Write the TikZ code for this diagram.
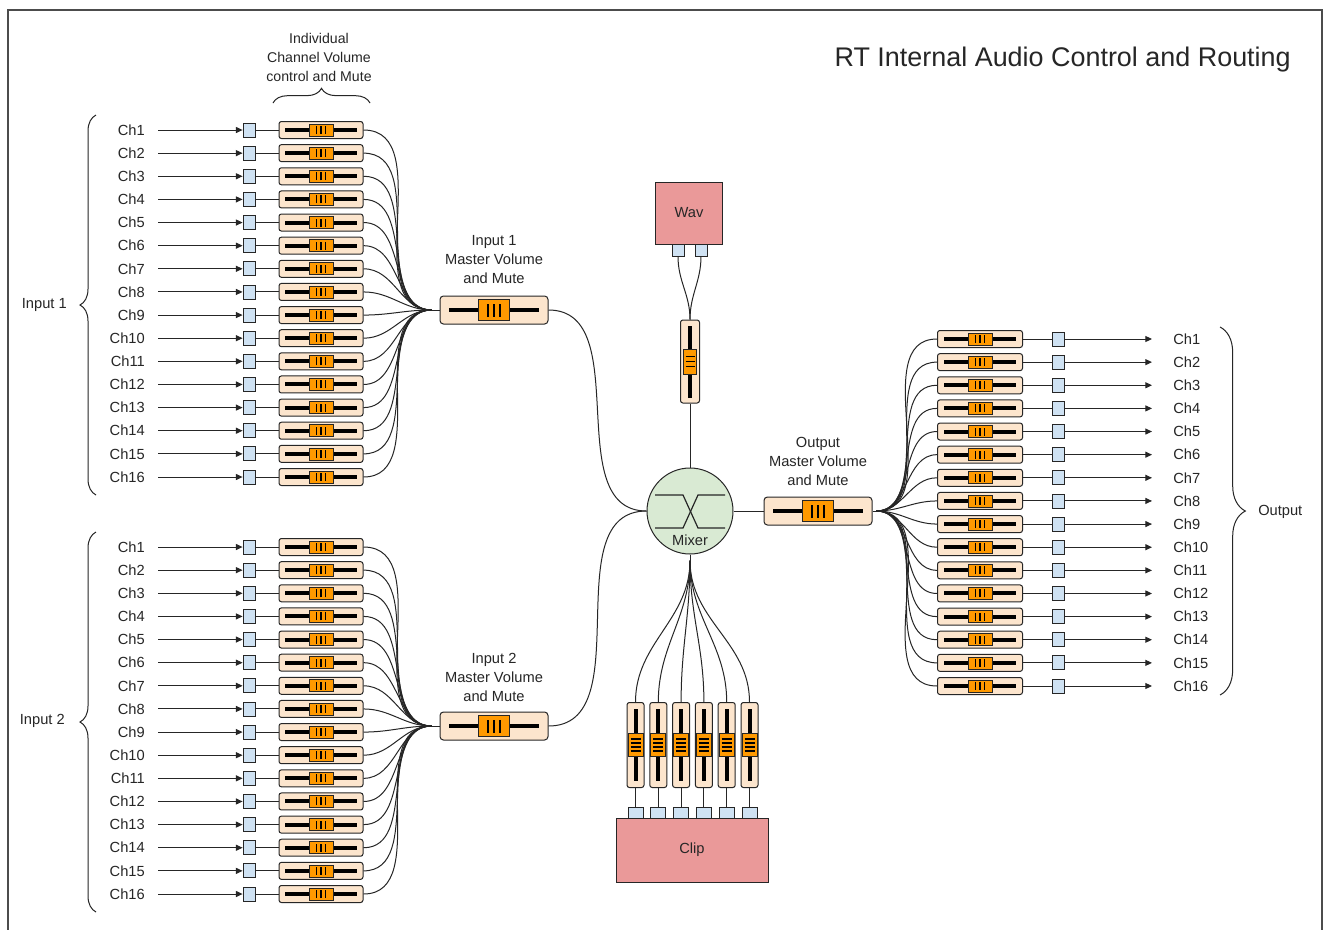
\documentclass[tikz,border=0pt]{standalone}
\usepackage{fontspec}
\setmainfont{Liberation Sans}
\usetikzlibrary{arrows.meta,decorations.pathreplacing,calc}

\definecolor{ink}{HTML}{262626}
\definecolor{peach}{HTML}{FCE5CD}
\definecolor{knob}{HTML}{FF9900}
\definecolor{portblue}{HTML}{CFE2F3}
\definecolor{srcpink}{HTML}{EA9999}
\definecolor{mixgreen}{HTML}{D9EAD3}

\tikzset{
  lbl/.style={font=\fontsize{11}{14.25}\selectfont, text=ink, inner sep=0pt},
  wire/.style={draw=ink, line width=0.75pt},
  sig/.style={wire, -{Triangle[length=5pt,width=4.5pt]}},
  port/.style={draw=ink, fill=portblue, minimum width=9pt, minimum height=10.5pt,
    inner sep=0pt, line width=0.6pt},
  srcbox/.style={draw=ink, fill=srcpink, inner sep=0pt, line width=0.75pt,
    font=\fontsize{11}{13}\selectfont, text=ink},
  % horizontal fader of one channel
  chslider/.style={draw=ink, fill=peach, rounded corners=1.8pt, minimum width=63pt,
    minimum height=12.75pt, inner sep=0pt, line width=0.75pt,
    path picture={
      \begin{scope}[sharp corners, shift={(path picture bounding box.center)}]
        \fill[black] (-36,-2) rectangle (36,2);
        \draw[fill=knob, draw=ink, line width=0.5pt] (-12,-6) rectangle (12,6);
        \foreach \d in {-4.5,0,4.5} \draw[black, line width=0.9pt] (\d,-4) -- (\d,4);
      \end{scope}}},
  % larger horizontal master fader
  mslider/.style={draw=ink, fill=peach, rounded corners=2.6pt, minimum width=81pt,
    minimum height=21pt, inner sep=0pt, line width=0.75pt,
    path picture={
      \begin{scope}[sharp corners, shift={(path picture bounding box.center)}]
        \fill[black] (-45,-2.2) rectangle (45,2.2);
        \draw[fill=knob, draw=ink, line width=0.6pt] (-15.5,-10.5) rectangle (15.5,10.5);
        \foreach \d in {-6,0,6} \draw[black, line width=1.6pt] (\d,-6.5) -- (\d,6.5);
      \end{scope}}},
  % vertical fader, three grip lines
  wslider/.style={draw=ink, fill=peach, rounded corners=1.8pt, minimum width=14.25pt,
    minimum height=62.25pt, inner sep=0pt, line width=0.75pt,
    path picture={
      \begin{scope}[sharp corners, shift={(path picture bounding box.center)}]
        \fill[black] (-2,-36) rectangle (2,36);
        \draw[fill=knob, draw=ink, line width=0.5pt] (-6.5,-12.5) rectangle (6.5,12.5);
        \foreach \d in {-5,0,5} \draw[black, line width=0.9pt] (-4.5,\d) -- (4.5,\d);
      \end{scope}}},
  % vertical fader, four grip lines
  cslider/.style={draw=ink, fill=peach, rounded corners=1.8pt, minimum width=12.75pt,
    minimum height=63.75pt, inner sep=0pt, line width=0.75pt,
    path picture={
      \begin{scope}[sharp corners, shift={(path picture bounding box.center)}]
        \fill[black] (-2,-36) rectangle (2,36);
        \draw[fill=knob, draw=ink, line width=0.5pt] (-7.5,-11.5) rectangle (7.5,11.5);
        \foreach \d in {-6,-2,2,6} \draw[black, line width=0.9pt] (-5,\d) -- (5,\d);
      \end{scope}}},
  bracedeco/.style={wire, decorate, decoration={brace, amplitude=#1}},
}

\begin{document}
\begin{tikzpicture}[x=0.75pt,y=0.75pt]
\useasboundingbox (0,0) rectangle (1327,-929);
\clip (0,0) rectangle (1327,-929);
\fill[white] (0,0) rectangle (1327,-929);

% outer frame
\draw[black!70, line width=1.2pt] (8,-945) -- (8,-10) -- (1322,-10) -- (1322,-945);

% title
\node[lbl, anchor=east, font=\fontsize{20.2}{23}\selectfont] (title) at (1291,-60)
  {RT Internal Audio Control and Routing};

% column heading over the channel faders
\node[lbl, align=center, font=\fontsize{10.6}{14.25}\selectfont] (colhead) at (319,-57)
  {Individual\\Channel Volume\\control and Mute};
\draw[bracedeco=11pt] (273,-103) -- (370,-103);

% master faders and the points where their feeds merge
\node[mslider] (m1) at (494,-310) {};
\node[mslider] (m2) at (494,-726) {};
\coordinate (m1j) at ($(m1.west)+(-8,0)$);
\coordinate (m2j) at ($(m2.west)+(-8,0)$);
\node[lbl, align=center] (m1lbl) at (494,-260) {Input 1\\Master Volume\\and Mute};
\node[lbl, align=center] (m2lbl) at (494,-677) {Input 2\\Master Volume\\and Mute};

% mixer
\node[circle, draw=ink, fill=mixgreen, minimum size=64.5pt, inner sep=0pt,
  line width=0.75pt] (mix) at (690,-511) {};
\coordinate (mixj) at ($(mix.south)+(0,-6)$);
\draw[ink, line width=0.9pt] (655,-495) -- (683,-495) -- (698,-528) -- (725,-528);
\draw[ink, line width=0.9pt] (655,-528) -- (683,-528) -- (698,-495) -- (725,-495);
\node[lbl] (mixlbl) at (690,-540) {Mixer};

% input 1 channels
\foreach \i in {1,...,16} {
  \pgfmathsetmacro{\yy}{-(130+(\i-1)*23.133)}
  \node[lbl, anchor=east] (ia\i) at (145,\yy) {Ch\i};
  \coordinate (ias\i) at (158,\yy);
  \node[port] (iap\i) at (249,\yy) {};
  \node[chslider] (iav\i) at (321,\yy) {};
  \draw[sig] (ias\i) -- (iap\i);
  \draw[wire] (iap\i) -- (iav\i);
  \draw[wire] (iav\i.east) to[out=0,in=180] (m1j);
}
\draw[wire] (m1j) -- (m1.west);
\draw[bracedeco=12pt] (96,-495) -- (96,-115);
\node[lbl, anchor=east] (in1) at (67,-305) {Input 1};

% input 2 channels
\foreach \i in {1,...,16} {
  \pgfmathsetmacro{\yy}{-(547+(\i-1)*23.133)}
  \node[lbl, anchor=east] (ib\i) at (145,\yy) {Ch\i};
  \coordinate (ibs\i) at (158,\yy);
  \node[port] (ibp\i) at (249,\yy) {};
  \node[chslider] (ibv\i) at (321,\yy) {};
  \draw[sig] (ibs\i) -- (ibp\i);
  \draw[wire] (ibp\i) -- (ibv\i);
  \draw[wire] (ibv\i.east) to[out=0,in=180] (m2j);
}
\draw[wire] (m2j) -- (m2.west);
\draw[bracedeco=12pt] (96,-912) -- (96,-532);
\node[lbl, anchor=east] (in2) at (65,-721) {Input 2};

% masters into the mixer
\draw[wire] (m1.east) to[out=0,in=180] (mix.west);
\draw[wire] (m2.east) to[out=0,in=180] (mix.west);

% wav source
\node[srcbox, minimum width=50.25pt, minimum height=46.5pt] (wav) at (689,-213) {Wav};
\node[port, minimum width=9pt, minimum height=9pt] (wp1) at (678,-250) {};
\node[port, minimum width=9pt, minimum height=9pt] (wp2) at (701,-250) {};
\node[wslider] (wvs) at (690,-361.5) {};
\draw[wire] (wp1.south) to[out=-90,in=90] (wvs.north);
\draw[wire] (wp2.south) to[out=-90,in=90] (wvs.north);
\draw[wire] (wvs.south) -- (mix.north);

% clip source
\node[srcbox, minimum width=114pt, minimum height=48pt] (clip) at (692,-850) {Clip};
\foreach \j in {1,...,6} {
  \pgfmathsetmacro{\xx}{635.5+22.8*(\j-1)}
  \node[port, minimum width=11.25pt, minimum height=8.25pt] (cp\j) at (\xx,-812.5) {};
  \node[cslider] (cs\j) at (\xx,-745) {};
  \draw[wire] (cp\j) -- (cs\j);
  \draw[wire] (cs\j.north) to[out=90,in=-90] (mixj);
}
\draw[wire] (mixj) -- (mix.south);

% output master
\node[mslider] (om) at (818,-511) {};
\coordinate (omj) at ($(om.east)+(4,0)$);
\node[lbl, align=center] (omlbl) at (818,-461) {Output\\Master Volume\\and Mute};
\draw[wire] (mix.east) -- (om.west);
\draw[wire] (om.east) -- (omj);

% output channels
\foreach \i in {1,...,16} {
  \pgfmathsetmacro{\yy}{-(339+(\i-1)*23.133)}
  \node[chslider, minimum width=63.75pt] (ov\i) at (980,\yy) {};
  \node[port] (op\i) at (1058,\yy) {};
  \coordinate (oe\i) at (1152,\yy);
  \node[lbl, anchor=west] (oc\i) at (1173,\yy) {Ch\i};
  \draw[wire] (omj) to[out=0,in=180] (ov\i.west);
  \draw[wire] (ov\i) -- (op\i);
  \draw[sig] (op\i) -- (oe\i);
}
\draw[bracedeco=19pt] (1220,-327) -- (1220,-695);
\node[lbl, anchor=west] (outlbl) at (1258,-512) {Output};

\end{tikzpicture}
\end{document}
